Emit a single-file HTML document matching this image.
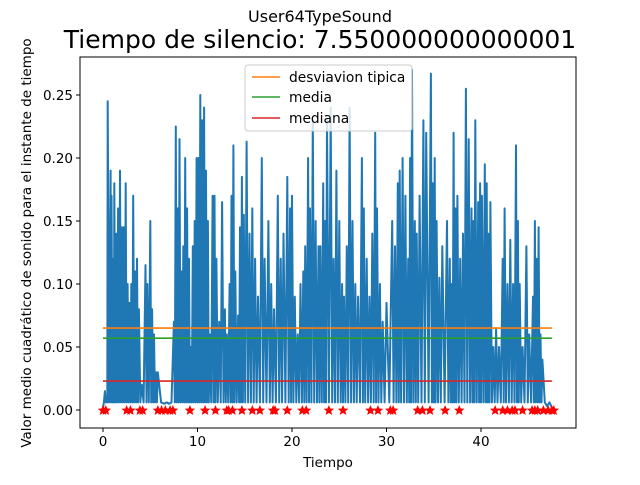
<!DOCTYPE html>
<html><head><meta charset="utf-8"><style>
body{margin:0;background:#fff;}
svg text{font-family:"DejaVu Sans","Liberation Sans",sans-serif;fill:#000;}
</style></head><body>
<svg id="chart" width="640" height="480" xmlns="http://www.w3.org/2000/svg">
<rect width="640" height="480" fill="#fff"/>
<text x="320" y="22" font-size="16" text-anchor="middle">User64TypeSound</text>
<text x="320" y="48" font-size="25" text-anchor="middle">Tiempo de silencio: 7.550000000000001</text>
<g id="plot"></g>
<g id="axes"></g>
<text x="328" y="467" font-size="13.5" text-anchor="middle">Tiempo</text>
<text transform="translate(31,243) rotate(-90)" font-size="13.5" text-anchor="middle">Valor medio cuadrático de sonido para el instante de tiempo</text>
<g>
<rect x="245" y="65" width="167" height="66" rx="3" fill="#fff" fill-opacity="0.8" stroke="#ccc"/>
<line x1="252" y1="77" x2="280" y2="77" stroke="#ff7f0e" stroke-width="1.5"/>
<text x="289" y="82" font-size="13.8">desviavion tipica</text>
<line x1="252" y1="97" x2="280" y2="97" stroke="#2ca02c" stroke-width="1.5"/>
<text x="289" y="102" font-size="13.8">media</text>
<line x1="252" y1="118" x2="280" y2="118" stroke="#d62728" stroke-width="1.5"/>
<text x="289" y="123" font-size="13.8">mediana</text>
</g>
</svg>
<script>
// [time, peak value] pairs; the signal drops to troughLevel between peaks
const peaks=[[0,0.002],[0.2,0.015],[0.4,0.01],[0.5,0.245],[0.8,0.19],[0.9,0.17],[1.1,0.12],[1.2,0.18],[1.4,0.14],[1.6,0.16],[1.8,0.19],[2.0,0.145],[2.2,0.145],[2.4,0.18],[2.6,0.1],[2.8,0.085],[3.0,0.1],[3.2,0.17],[3.4,0.11],[3.6,0.12],[3.8,0.08],[4.1,0.02],[4.5,0.115],[4.7,0.1],[5.0,0.15],[5.2,0.08],[5.4,0.06],[5.6,0.03],[5.8,0.03],[6.5,0.005],[7.0,0.005],
[7.5,0.07],[7.7,0.225],[7.9,0.16],[8.1,0.215],[8.3,0.11],[8.5,0.13],[8.7,0.2],[8.9,0.16],[9.1,0.12],[9.3,0.05],[9.5,0.13],[9.7,0.15],[9.9,0.2],[10.1,0.2],[10.3,0.25],[10.5,0.23],[10.7,0.24],[10.9,0.19],[11.1,0.15],[11.3,0.06],[11.6,0.17],[11.8,0.17],[12.0,0.12],[12.3,0.07],[12.6,0.165],[12.9,0.08],[13.1,0.06],[13.4,0.1],[13.6,0.17],[13.8,0.21],[14.0,0.11],[14.3,0.075],[14.5,0.145],[14.7,0.185],[14.9,0.155],
[15.2,0.213],[15.5,0.14],[15.8,0.16],[16.1,0.12],[16.4,0.09],[16.8,0.2],[17.1,0.12],[17.5,0.15],[17.8,0.1],[18.1,0.08],[18.5,0.17],[18.8,0.12],[19.1,0.14],[19.5,0.185],[19.8,0.16],[20.0,0.17],[20.3,0.09],[20.6,0.06],[20.9,0.1],[21.2,0.11],[21.4,0.13],[21.7,0.2],[21.9,0.16],[22.2,0.23],[22.5,0.15],[22.8,0.13],[23.0,0.13],[23.3,0.18],[23.5,0.15],[23.7,0.23],[24.1,0.24],[24.4,0.12],[24.7,0.19],[25.0,0.15],[25.3,0.1],[25.5,0.09],[25.8,0.13],[26.1,0.24],[26.4,0.15],[26.7,0.1],[27.0,0.09],[27.4,0.2],[27.6,0.16],[27.9,0.12],[28.2,0.09],[28.5,0.14],[28.8,0.22],[29.0,0.16],[29.3,0.1],[29.6,0.07],[30.0,0.085],[30.6,0.15],[30.9,0.13],[31.2,0.18],[31.4,0.19],[31.7,0.2],[32.0,0.17],[32.3,0.12],[32.5,0.2],[32.7,0.27],[33.0,0.15],[33.2,0.14],[33.5,0.17],[33.9,0.23],[34.2,0.22],[34.7,0.267],[34.9,0.18],[35.1,0.2],[35.3,0.15],[35.6,0.105],[35.9,0.13],[36.4,0.15],[36.7,0.12],[36.9,0.1],[37.1,0.22],[37.3,0.16],[37.5,0.17],[37.8,0.12],[38.1,0.14],[38.4,0.255],[38.7,0.215],[39.0,0.16],[39.2,0.15],[39.4,0.23],[39.7,0.165],[39.9,0.18],[40.1,0.17],[40.4,0.195],[40.6,0.18],[40.8,0.14],[41.0,0.165],[41.3,0.05],[41.6,0.065],[41.9,0.05],[42.3,0.12],[42.5,0.16],[42.8,0.1],[43.1,0.135],[43.4,0.1],[43.7,0.21],[43.9,0.15],[44.1,0.1],[44.4,0.05],[44.8,0.13],[45.1,0.06],[45.5,0.09],[45.7,0.15],[45.9,0.12],[46.1,0.145],[46.3,0.06],[46.5,0.04],[47.0,0.003],[47.5,0.002]];
const troughLevel=0.006;
const silenceTimes=[0,0.3,2.5,2.9,3.9,4.2,5.8,6.2,6.6,7.1,7.4,9.2,10.8,11.9,13.1,13.3,13.7,14.7,15.8,16.6,18.0,18.2,19.5,21.1,21.5,23.9,25.4,28.3,29.1,30.4,30.7,33.3,33.8,34.6,36.2,37.7,41.5,42.3,42.8,43.3,43.6,44.4,45.4,45.7,46.0,46.6,47.1,47.5,47.7];
const refNames=['desviacion-line','media-line','mediana-line'];
const refValues=[0.065,0.057,0.023];
const refColors=['#ff7f0e','#2ca02c','#d62728'];
const xTicks=[0,10,20,30,40];
const yTicks=[0,0.05,0.10,0.15,0.20,0.25];
const yTickLabels=['0.00','0.05','0.10','0.15','0.20','0.25'];

const L=80,R=576,T=57,B=428;
const sx=t=>103+t*9.45;
const sy=v=>410-v*1260;
const NS='http://www.w3.org/2000/svg';
const plot=document.getElementById('plot'),axes=document.getElementById('axes');
function mk(tag,attrs,parent){const e=document.createElementNS(NS,tag);for(const k in attrs)e.setAttribute(k,attrs[k]);parent.appendChild(e);return e;}

const P=[];
peaks.forEach((p,i)=>{
  P.push(sx(p[0]).toFixed(1)+','+sy(p[1]).toFixed(1));
  if(i<peaks.length-1){const tm=(p[0]+peaks[i+1][0])/2;P.push(sx(tm).toFixed(1)+','+sy(troughLevel).toFixed(1));}
});
const line=mk('polyline',{points:P.join(' '),fill:'none',stroke:'#1f77b4','stroke-width':2,'stroke-linejoin':'round'},plot);



refValues.forEach((v,i)=>{
  const l=mk('line',{x1:sx(0),x2:sx(47.5),y1:sy(v),y2:sy(v),stroke:refColors[i],'stroke-width':1.6},plot);
  
  
});

function starPath(cx,cy,r){let d='';for(let k=0;k<10;k++){const a=-Math.PI/2+k*Math.PI/5;const rr=k%2?r*0.45:r;d+=(k?'L':'M')+(cx+rr*Math.cos(a)).toFixed(1)+','+(cy+rr*Math.sin(a)).toFixed(1);}return d+'Z';}
silenceTimes.forEach(t=>{
  const s=mk('path',{d:starPath(sx(t),sy(0)+0.5,5.5),fill:'#ff0000'},plot);
  
  
});

mk('rect',{x:L,y:T,width:R-L,height:B-T,fill:'none',stroke:'#000','stroke-width':1},axes);
xTicks.forEach(t=>{
  mk('line',{x1:sx(t),x2:sx(t),y1:B,y2:B+4,stroke:'#000'},axes);
  const tx=mk('text',{x:sx(t),y:B+18,'font-size':13.5,'text-anchor':'middle'},axes);
  tx.textContent=t;
  
  
});
yTicks.forEach((v,i)=>{
  mk('line',{x1:L-4,x2:L,y1:sy(v),y2:sy(v),stroke:'#000'},axes);
  const tx=mk('text',{x:L-7,y:sy(v)+5,'font-size':13.5,'text-anchor':'end'},axes);
  tx.textContent=yTickLabels[i];
  
  
});
</script>
</body></html>
